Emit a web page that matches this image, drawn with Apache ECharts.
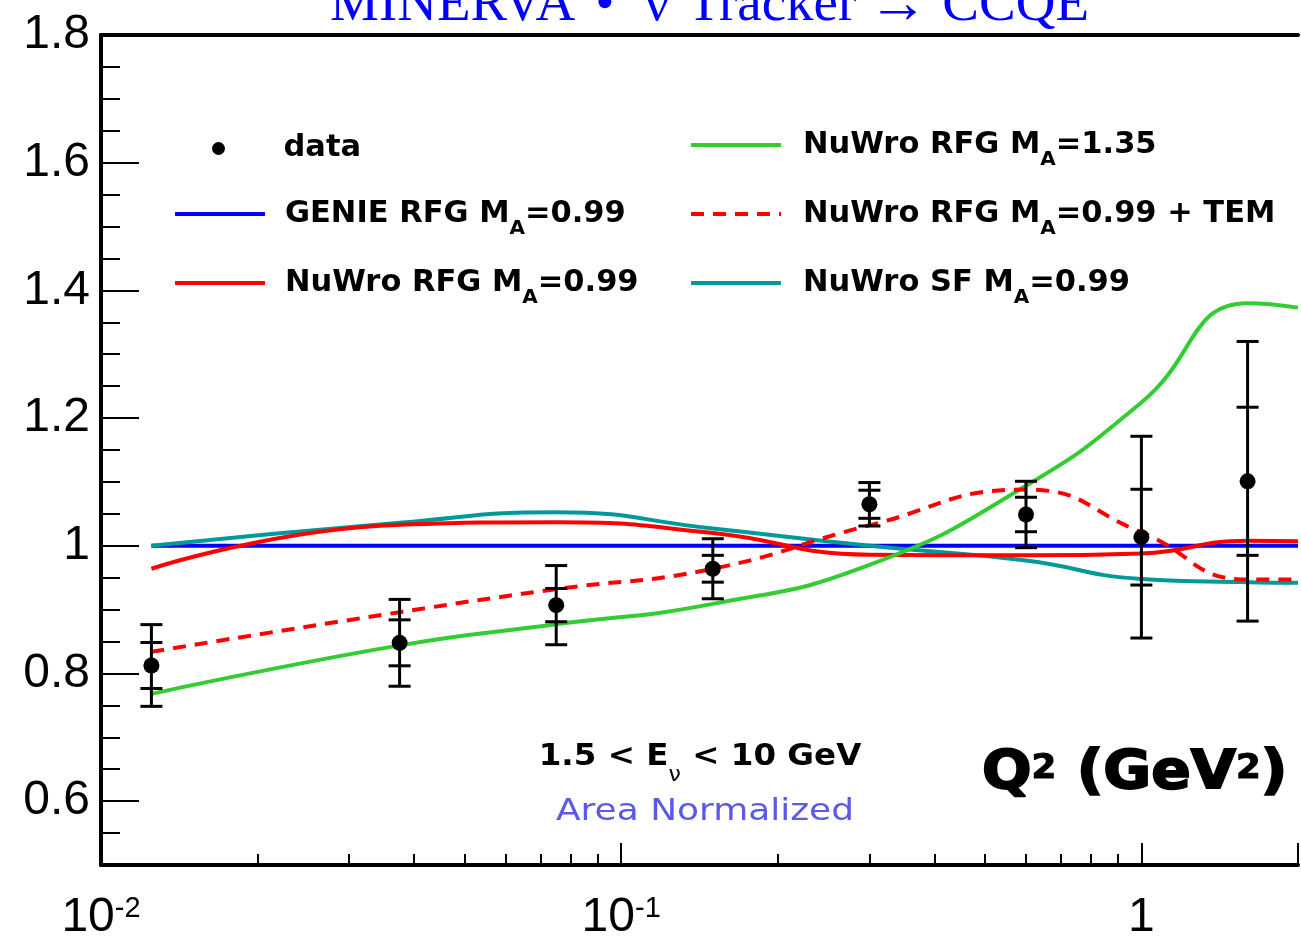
<!DOCTYPE html>
<html><head><meta charset="utf-8">
<script src="https://cdn.jsdelivr.net/npm/echarts@6/dist/echarts.min.js"></script>
<style>html,body{margin:0;padding:0;background:#fff}#c{width:1301px;height:942px}</style>
</head><body><div id="c"></div>
<script>
// ---- data ----
const q2 = [0.0125, 0.0375, 0.075, 0.15, 0.3, 0.6, 1.0, 1.6];
const dataVal = [0.8125, 0.848, 0.907, 0.964, 1.065, 1.049, 1.0135, 1.101];
const statErr = [0.036, 0.036, 0.026, 0.021, 0.022, 0.027, 0.075, 0.116];
const totErr  = [0.064, 0.068, 0.062, 0.047, 0.034, 0.052, 0.158, 0.219];

const q2Curve     = [0.0125, 0.0375, 0.075, 0.15, 0.3, 0.6, 1.0, 1.6, 2.0];
const genieRFG    = [1.0, 1.0, 1.0, 1.0, 1.0, 1.0, 1.0, 1.0, 1.0];
const nuwroRFG    = [0.964, 1.033, 1.037, 1.020, 0.986, 0.985, 0.988, 1.008, 1.007];
const nuwroRFG135 = [0.768, 0.844, 0.877, 0.909, 0.970, 1.094, 1.2245, 1.380, 1.373];
const nuwroTEM    = [0.834, 0.896, 0.932, 0.964, 1.032, 1.088, 1.021, 0.947, 0.947];
const nuwroSF     = [1.000, 1.036, 1.0526, 1.027, 1.000, 0.977, 0.948, 0.943, 0.942];

const seriesNames = ['GENIE RFG M_A=0.99', 'NuWro RFG M_A=0.99', 'NuWro RFG M_A=1.35',
                     'NuWro RFG M_A=0.99 + TEM', 'NuWro SF M_A=0.99'];
const dataName = 'data';

const yTickValues = [0.6, 0.8, 1.0, 1.2, 1.4, 1.6, 1.8];
const yMinorTicks = [0.55, 0.65, 0.7, 0.75, 0.85, 0.9, 0.95, 1.05, 1.1, 1.15, 1.25, 1.3, 1.35,
                     1.45, 1.5, 1.55, 1.65, 1.7, 1.75];
const xMinorTicks = [0.02, 0.03, 0.04, 0.05, 0.06, 0.07, 0.08, 0.09,
                     0.2, 0.3, 0.4, 0.5, 0.6, 0.7, 0.8, 0.9, 2];
const xTickLabels = { '0.01': ['10', '-2'], '0.1': ['10', '-1'], '1': ['1', ''] };

const titleParts = ['MINERVA', '\u2022', '\u03bd', 'Tracker', '\u2192', 'CCQE'];

// ---- chart ----
const chart = echarts.init(document.getElementById('c'), null, { renderer: 'canvas' });

function pairs(xs, ys) { return xs.map((x, i) => [x, ys[i]]); }

function legendFormatter(name) {
  const parts = name.split('_A');
  if (parts.length === 1) return '{f|' + name + '}';
  return '{f|' + parts[0] + '}{s|A}{b|' + parts[1] + '}';
}
function legendRich(pad) {
  const base = { fontFamily: 'DejaVu Sans', fontWeight: 'bold', fontSize: 30.5, lineHeight: 50,
                 color: '#000', verticalAlign: 'middle' };
  return {
    f: Object.assign({}, base, { padding: [0, 0, 0, pad] }),
    b: Object.assign({}, base),
    s: { fontFamily: 'DejaVu Sans', fontWeight: 'bold', fontSize: 20, lineHeight: 20, color: '#000',
         padding: [30, 0, 0, 0], verticalAlign: 'middle' }
  };
}
function legendAt(name, left, top, pad) {
  return {
    data: [name], left: left, top: top, orient: 'vertical', padding: 0,
    itemWidth: 90, itemHeight: 13, selectedMode: false,
    formatter: legendFormatter,
    textStyle: { rich: legendRich(pad) },
    lineStyle: { width: 4 },
    itemStyle: name === dataName ? { opacity: 1 } : { opacity: 0 }
  };
}

const lineCommon = { type: 'line', symbol: 'none', showSymbol: false, smooth: 0.5, z: 3 };

const option = {
  animation: false,
  backgroundColor: '#fff',
  grid: { left: 101, right: 0, top: 35, bottom: 76 },
  xAxis: [
    { type: 'log', logBase: 10, min: 0.01, max: 2, position: 'bottom',
      axisLine: { show: true, onZero: false, lineStyle: { color: '#000', width: 4 } },
      axisTick: { show: true, inside: true, length: 22, lineStyle: { color: '#000', width: 2 } },
      minorTick: { show: false }, splitLine: { show: false },
      axisLabel: {
        margin: 29,
        formatter: function (v) {
          const key = String(+v.toPrecision(6));
          const lab = xTickLabels[key];
          if (!lab) return '';
          return lab[1] ? '{b|' + lab[0] + '}{s|' + lab[1] + '}' : '{b|' + lab[0] + '}';
        },
        rich: {
          b: { fontFamily: 'Liberation Sans', fontSize: 48, lineHeight: 48, color: '#000', verticalAlign: 'top' },
          s: { fontFamily: 'Liberation Sans', fontSize: 29, lineHeight: 18, color: '#000', verticalAlign: 'top' }
        }
      } },
    { type: 'log', logBase: 10, min: 0.01, max: 2, position: 'bottom',
      axisLine: { show: false, onZero: false },
      axisTick: { show: true, inside: true, length: 11, customValues: xMinorTicks,
                  lineStyle: { color: '#000', width: 2 } },
      axisLabel: { show: false }, splitLine: { show: false } },
    { type: 'log', logBase: 10, min: 0.01, max: 2, position: 'top',
      axisLine: { show: true, onZero: false, lineStyle: { color: '#000', width: 4 } },
      axisTick: { show: false }, axisLabel: { show: false }, splitLine: { show: false } }
  ],
  yAxis: [
    { type: 'value', min: 0.5, max: 1.8, position: 'left',
      axisLine: { show: true, onZero: false, lineStyle: { color: '#000', width: 4 } },
      axisTick: { show: true, inside: true, length: 38, customValues: yTickValues,
                  lineStyle: { color: '#000', width: 2 } },
      axisLabel: { customValues: yTickValues, margin: 11, color: '#000',
                   fontFamily: 'Liberation Sans', fontSize: 48 },
      splitLine: { show: false } },
    { type: 'value', min: 0.5, max: 1.8, position: 'left',
      axisLine: { show: false, onZero: false },
      axisTick: { show: true, inside: true, length: 19, customValues: yMinorTicks,
                  lineStyle: { color: '#000', width: 2 } },
      axisLabel: { show: false }, splitLine: { show: false } }
  ],
  legend: [
    legendAt(dataName, 212, 133, 15),
    legendAt(seriesNames[0], 173, 189, 15),
    legendAt(seriesNames[1], 173, 258, 15),
    legendAt(seriesNames[2], 689, 120, 17),
    legendAt(seriesNames[3], 689, 189, 17),
    legendAt(seriesNames[4], 689, 258, 17)
  ],
  series: [
    Object.assign({}, lineCommon, { name: seriesNames[0], data: pairs(q2Curve, genieRFG),
      lineStyle: { color: '#0000ff', width: 4 }, itemStyle: { color: '#0000ff' } }),
    Object.assign({}, lineCommon, { name: seriesNames[4], data: pairs(q2Curve, nuwroSF),
      lineStyle: { color: '#009999', width: 4 }, itemStyle: { color: '#009999' } }),
    Object.assign({}, lineCommon, { name: seriesNames[1], data: pairs(q2Curve, nuwroRFG),
      lineStyle: { color: '#ff0000', width: 4 }, itemStyle: { color: '#ff0000' } }),
    Object.assign({}, lineCommon, { name: seriesNames[2], data: pairs(q2Curve, nuwroRFG135),
      lineStyle: { color: '#33cc33', width: 4 }, itemStyle: { color: '#33cc33' } }),
    Object.assign({}, lineCommon, { name: seriesNames[3], data: pairs(q2Curve, nuwroTEM),
      lineStyle: { color: '#ff0000', width: 4, type: [13, 9] }, itemStyle: { color: '#ff0000' } }),
    { name: 'data errors', type: 'custom', z: 4,
      data: q2.map((x, i) => [x, dataVal[i], statErr[i], totErr[i]]),
      encode: { x: 0, y: 1 },
      renderItem: function (params, api) {
        const x = api.value(0), y = api.value(1), se = api.value(2), te = api.value(3);
        const c = api.coord([x, y]);
        const tTop = api.coord([x, y + te])[1], tBot = api.coord([x, y - te])[1];
        const sTop = api.coord([x, y + se])[1], sBot = api.coord([x, y - se])[1];
        const hw = 11;
        const st = { stroke: '#000', lineWidth: 3 };
        const cap = (yy) => ({ type: 'line', shape: { x1: c[0] - hw, y1: yy, x2: c[0] + hw, y2: yy }, style: st });
        return { type: 'group', children: [
          { type: 'line', shape: { x1: c[0], y1: tTop, x2: c[0], y2: tBot }, style: st },
          cap(tTop), cap(tBot), cap(sTop), cap(sBot)
        ] };
      } },
    { name: dataName, type: 'scatter', z: 5, symbol: 'circle', symbolSize: 16,
      itemStyle: { color: '#000', opacity: 1 }, data: pairs(q2, dataVal) }
  ],
  graphic: [
    { type: 'text', x: 330, y: 6, style: {
        text: '{t|' + titleParts[0] + '}{b|' + titleParts[1] + '}{n|' + titleParts[2] + '}{k|' +
              titleParts[3] + '}{a|' + titleParts[4] + '}{c|' + titleParts[5] + '}',
        verticalAlign: 'middle', align: 'left',
        rich: {
          t: { fontFamily: 'Liberation Serif', fontSize: 55, fill: '#0000ff' },
          b: { fontFamily: 'Liberation Serif', fontSize: 55, fill: '#0000ff', padding: [0, 0, 0, 20] },
          n: { fontFamily: 'Liberation Serif', fontSize: 55, fill: '#0000ff', padding: [0, 0, 0, 30] },
          k: { fontFamily: 'Liberation Serif', fontSize: 55, fill: '#0000ff', padding: [0, 0, 0, 18] },
          a: { fontFamily: 'Liberation Serif', fontSize: 60, fill: '#0000ff', padding: [0, 0, 0, 12] },
          c: { fontFamily: 'Liberation Serif', fontSize: 55, fill: '#0000ff', padding: [0, 0, 0, 14] }
        } } },
    { type: 'text', x: 700, y: 741, scaleX: 1.05, style: {
        text: '{b|1.5 < E}{s|\u03bd}{b| < 10 GeV}', align: 'center', verticalAlign: 'top',
        rich: {
          b: { fontFamily: 'DejaVu Sans', fontWeight: 'bold', fontSize: 31, lineHeight: 36, fill: '#000', verticalAlign: 'top' },
          s: { fontFamily: 'DejaVu Sans', fontSize: 21, lineHeight: 20, fill: '#000', padding: [24, 0, 0, 0], verticalAlign: 'top' }
        } } },
    { type: 'text', x: 705, y: 812, scaleX: 1.16, style: { text: 'Area Normalized', fill: '#5a5ae6',
        fontFamily: 'DejaVu Sans', fontSize: 31, align: 'center', verticalAlign: 'middle' } },
    { type: 'text', x: 982, y: 747, scaleX: 1.08, style: {
        text: '{b|Q}{p|2}{b| (GeV}{p|2}{b|)}', align: 'left', verticalAlign: 'top',
        rich: {
          b: { fontFamily: 'DejaVu Sans', fontWeight: 'bold', fontSize: 54, lineHeight: 60, fill: '#000',
               stroke: '#000', lineWidth: 2, verticalAlign: 'top' },
          p: { fontFamily: 'DejaVu Sans', fontWeight: 'bold', fontSize: 33, lineHeight: 30, fill: '#000',
               stroke: '#000', lineWidth: 1, padding: [6, 0, 0, 0], verticalAlign: 'top' }
        } } }
  ]
};
chart.setOption(option);
</script></body></html>
